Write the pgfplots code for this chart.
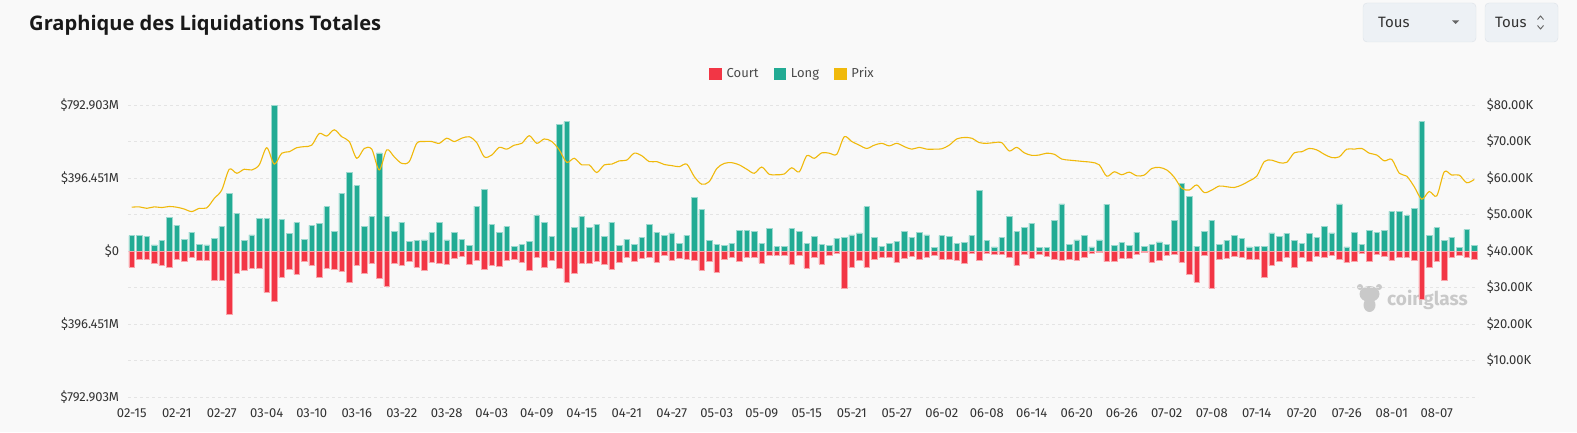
\documentclass[border=0pt]{standalone}
\usepackage{fontspec}
\setmainfont{Fira Sans}
\newfontfamily\titlefont{Open Sans}
\usepackage{pgfplots}
\usepackage{pgfplotstable}
\pgfplotsset{compat=1.18}

\definecolor{bg}{HTML}{F9F9F9}
\definecolor{longc}{HTML}{22AB94}
\definecolor{shortc}{HTML}{F23645}
\definecolor{pricec}{HTML}{F0B90B}
\definecolor{gridc}{HTML}{E4E4E4}
\definecolor{txt}{HTML}{333333}
\definecolor{legtxt}{HTML}{4A4A4A}
\definecolor{boxfill}{HTML}{EDF1F5}
\definecolor{boxline}{HTML}{DCE2E8}
\definecolor{wm}{HTML}{C9C9C9}

% i = day since 02-15, long/short in $M, price in $K
\pgfplotstableread{
i long short price
0 83 87 52.0
1 83 45 52.1
2 79 45 51.7
3 33 67 52.1
4 56 78 51.9
5 184 87 52.2
6 141 43 52.0
7 61 56 51.5
8 103 34 50.8
9 38 49 51.7
10 33 51 51.8
11 67 157 54.4
12 132 157 56.7
13 312 343 62.4
14 206 121 61.3
15 58 105 62.4
16 87 94 62.2
17 179 92 63.6
18 175 224 68.3
19 793 276 63.8
20 170 141 66.8
21 96 98 67.2
22 154 125 68.3
23 63 56 68.6
24 139 78 69.0
25 152 143 72.2
26 240 96 71.5
27 105 98 73.2
28 314 110 71.3
29 426 170 70.0
30 354 78 65.4
31 135 121 68.1
32 186 69 67.9
33 533 146 62.2
34 188 190 67.7
35 105 67 65.8
36 157 78 64.0
37 54 58 64.5
38 58 88 69.5
39 60 103 70.0
40 99 63 70.0
41 157 69 69.5
42 60 72 70.9
43 99 42 70.0
44 63 31 70.9
45 29 70 71.3
46 244 52 69.7
47 334 98 65.8
48 143 76 66.3
49 103 83 68.4
50 132 51 67.9
51 25 47 69.0
52 34 60 69.5
53 54 107 71.6
54 195 34 69.5
55 155 88 70.7
56 78 49 70.0
57 688 92 67.7
58 703 168 64.3
59 126 121 65.4
60 188 65 63.6
61 130 69 63.6
62 146 54 61.5
63 78 72 63.6
64 157 98 63.8
65 29 60 64.7
66 63 33 64.9
67 38 56 66.8
68 72 38 66.1
69 143 34 64.5
70 103 60 64.5
71 83 22 63.7
72 98 49 63.4
73 42 38 63.1
74 85 43 63.8
75 291 51 60.4
76 226 103 58.3
77 58 54 59.0
78 38 116 62.6
79 29 47 64.0
80 42 34 64.2
81 114 58 63.6
82 110 33 62.4
83 105 36 61.3
84 40 65 63.0
85 121 25 61.0
86 23 22 60.9
87 27 23 61.1
88 121 70 62.8
89 105 25 61.7
90 40 92 66.1
91 81 36 65.4
92 34 70 66.9
93 29 23 66.8
94 70 14 66.5
95 74 204 71.3
96 87 88 70.0
97 98 51 69.0
98 240 87 68.1
99 72 45 69.0
100 27 34 69.5
101 42 34 68.8
102 51 63 69.5
103 107 42 68.6
104 76 27 67.9
105 103 47 68.4
106 87 33 67.9
107 18 23 67.9
108 83 47 68.0
109 78 47 69.0
110 40 49 70.7
111 45 69 71.1
112 83 14 70.9
113 329 51 69.7
114 56 14 69.5
115 22 18 69.7
116 72 18 69.7
117 188 34 67.4
118 105 79 68.4
119 130 20 66.9
120 152 40 66.2
121 18 16 66.3
122 18 27 66.8
123 168 43 66.5
124 256 51 65.2
125 36 43 64.9
126 60 51 64.7
127 83 34 64.5
128 22 11 64.3
129 60 7 63.6
130 255 58 60.5
131 29 56 61.7
132 45 42 60.9
133 29 38 61.6
134 103 20 60.6
135 23 9 60.8
136 34 60 62.6
137 49 49 62.9
138 38 22 62.2
139 166 18 60.2
140 368 60 57.2
141 298 125 56.7
142 27 168 58.1
143 105 25 56.0
144 168 202 56.7
145 36 43 57.8
146 58 42 57.6
147 85 31 57.4
148 69 34 58.1
149 22 43 59.2
150 23 47 60.5
151 27 143 64.5
152 98 78 64.9
153 79 58 64.2
154 96 36 64.3
155 58 90 66.9
156 40 34 67.2
157 94 54 68.1
158 74 27 67.7
159 132 34 66.5
160 98 23 65.6
161 256 47 65.8
162 22 63 67.9
163 99 56 67.9
164 38 13 68.1
165 110 54 66.8
166 101 18 66.3
167 114 29 64.7
168 215 51 65.1
169 215 34 61.3
170 191 34 60.5
171 233 49 57.6
172 703 260 54.2
173 85 90 56.3
174 126 56 55.1
175 58 157 61.7
176 76 34 60.8
177 18 22 60.8
178 116 33 58.7
179 29 43 59.6
}\liq

\begin{document}
\begin{tikzpicture}
\useasboundingbox (0pt,0pt) rectangle (1577pt,432pt);
\fill[bg] (0pt,0pt) rectangle (1577pt,432pt);

% title
\node[anchor=base west, inner sep=0pt, text=black!90,
      font=\titlefont\bfseries\fontsize{20.1}{24}\selectfont] at (29pt,401pt)
      {Graphique des Liquidations Totales};

% selectors
\draw[boxline, fill=boxfill, rounded corners=4pt] (1363pt,390pt) rectangle (1476pt,429pt);
\node[anchor=west, inner sep=0pt, text=txt, font=\fontsize{15}{18}\selectfont] at (1378pt,410pt) {Tous};
\fill[black!60] (1452pt,411.5pt) -- (1459pt,411.5pt) -- (1455.5pt,408pt) -- cycle;
\draw[boxline, fill=boxfill, rounded corners=4pt] (1485pt,390pt) rectangle (1558pt,429pt);
\node[anchor=west, inner sep=0pt, text=txt, font=\fontsize{15}{18}\selectfont] at (1495pt,410pt) {Tous};
\draw[black!60, line width=0.9pt] (1537.5pt,412.5pt) -- (1540.5pt,416pt) -- (1543.5pt,412.5pt);
\draw[black!60, line width=0.9pt] (1537.5pt,406.5pt) -- (1540.5pt,403pt) -- (1543.5pt,406.5pt);

% watermark
\fill[wm] (1369.5pt,138pt) ellipse (10pt and 8pt);
\fill[wm] (1369.5pt,127pt) ellipse (6pt and 7pt);
\fill[wm] (1360pt,145pt) circle (3pt);
\fill[wm] (1379pt,145pt) circle (3pt);
\node[anchor=base west, inner sep=0pt, text=wm, font=\bfseries\fontsize{19}{22}\selectfont] at (1387pt,127pt) {coinglass};

\begin{axis}[
  at={(128pt,35pt)}, anchor=south west,
  width=1350pt, height=292pt, scale only axis,
  xmin=-0.5, xmax=179.5,
  ymin=-792.903, ymax=792.903,
  axis line style={draw=none},
  major tick length=0pt,
  xtick={0,6,...,174},
  xticklabels={02-15,02-21,02-27,03-04,03-10,03-16,03-22,03-28,04-03,04-09,
    04-15,04-21,04-27,05-03,05-09,05-15,05-21,05-27,06-02,06-08,06-14,06-20,
    06-26,07-02,07-08,07-14,07-20,07-26,08-01,08-07},
  ytick={-792.903,-594.677,-396.451,-198.226,0,198.226,396.451,594.677,792.903},
  yticklabels={\$792.903M,,\$396.451M,,\$0,,\$396.451M,,\$792.903M},
  ymajorgrids,
  grid style={gridc, dash pattern=on 3pt off 3pt, line width=0.8pt},
  tick label style={font=\fontsize{13}{15}\selectfont, text=txt},
  yticklabel style={inner sep=0pt, anchor=east, xshift=-8.7pt},
  xticklabel style={inner sep=0pt, anchor=base, yshift=-20pt},
  legend columns=3,
  legend style={at={(0.4915,1.108)}, anchor=center, draw=none, fill=none,
    font=\fontsize{13}{15}\selectfont, text=legtxt, nodes={inner sep=0pt},
    /tikz/every even column/.append style={column sep=15pt}},
]
\addlegendimage{legend image code/.code={\fill[shortc] (0pt,-5.75pt) rectangle (11.5pt,5.75pt); \path (17pt,0pt);}}
\addlegendentry{Court}
\addlegendimage{legend image code/.code={\fill[longc] (0pt,-5.75pt) rectangle (11.5pt,5.75pt); \path (17pt,0pt);}}
\addlegendentry{Long}
\addlegendimage{legend image code/.code={\fill[pricec] (0pt,-5.75pt) rectangle (11.5pt,5.75pt); \path (17pt,0pt);}}
\addlegendentry{Prix}

\addplot[ybar, bar width=0.76, bar shift=0pt, fill=longc, draw=longc!45!white,
  line width=0.7pt, forget plot] table[x=i, y=long]{\liq};
\addplot[ybar, bar width=0.76, bar shift=0pt, fill=shortc, draw=shortc!45!white,
  line width=0.7pt, forget plot] table[x=i, y expr=-\thisrow{short}]{\liq};
\end{axis}

\begin{axis}[
  at={(128pt,35pt)}, anchor=south west,
  width=1350pt, height=292pt, scale only axis,
  xmin=-0.5, xmax=179.5,
  ymin=0, ymax=80,
  axis x line=none, axis y line*=right,
  axis line style={draw=none},
  major tick length=0pt,
  ytick={10,20,...,80},
  yticklabels={\$10.00K,\$20.00K,\$30.00K,\$40.00K,\$50.00K,\$60.00K,\$70.00K,\$80.00K},
  tick label style={font=\fontsize{13}{15}\selectfont, text=txt},
  yticklabel style={inner sep=0pt, anchor=west, xshift=8.7pt},
]
\addplot[pricec, line width=1.1pt, smooth, mark=none] table[x=i, y=price]{\liq};
\end{axis}
\end{tikzpicture}
\end{document}
